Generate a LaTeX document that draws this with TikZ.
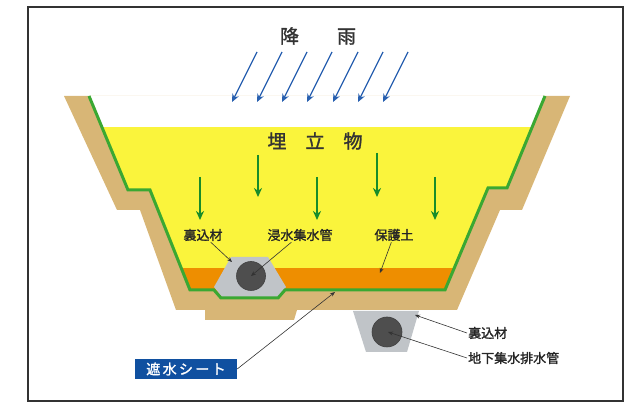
\documentclass[tikz,border=0pt]{standalone}
\usepackage{fontspec}
\usepackage{tikz}
\usetikzlibrary{arrows.meta}
\newfontfamily\jp{Noto Sans CJK JP}[AutoFakeBold=1.5]

\definecolor{bank}{RGB}{216,182,118}
\definecolor{liner}{RGB}{58,168,50}
\definecolor{waste}{RGB}{250,244,60}
\definecolor{guard}{RGB}{238,142,0}
\definecolor{gravel}{RGB}{192,196,200}
\definecolor{pipegray}{RGB}{78,78,78}
\definecolor{rainblue}{RGB}{40,96,176}
\definecolor{seep}{RGB}{24,140,42}
\definecolor{tagblue}{RGB}{16,80,160}

\begin{document}
\begin{tikzpicture}[x=1pt,y=-1pt,
            rain/.style={rainblue, line width=1.3pt, ->, >={Stealth[length=8pt,width=7pt]}},
            seepage/.style={seep, line width=1.6pt, ->, >={Stealth[length=9pt,width=8pt]}},
            leader/.style={black!80, line width=0.6pt, ->, >={Stealth[length=5pt,width=4pt]}},
            callout/.style={font=\jp\bfseries\fontsize{13}{13}\selectfont, text=black!85, inner sep=1pt},
            headline/.style={font=\jp\bfseries\fontsize{19}{19}\selectfont, text=black!80},
            sheetbox/.style={rectangle, fill=tagblue, text=white, inner sep=0pt, minimum width=102pt, minimum height=20pt,
                font=\jp\bfseries\fontsize{14}{14}\selectfont}
        ]
            \useasboundingbox (0,0) rectangle (630,403);

            % Outer frame
            \draw[black!80, line width=1.4pt] (28,7) rectangle (623,401);

            % Embankment (brown band)
            \fill[bank] (64,96) -- (117,210) -- (140,210) -- (176,310) -- (205,310) -- (205,320) -- (294,320)
                -- (297,310) -- (457,310) -- (500,210) -- (522,210) -- (570,96) -- cycle;
            \fill[white] (89,96) -- (128,190) -- (150,190) -- (190,290) -- (214,290) -- (221,298) -- (278,298)
                -- (285,290) -- (445,290) -- (488,188) -- (507,188) -- (545,96) -- cycle;

            % Waste fill and protective soil
            \begin{scope}
                \clip (89,96) -- (128,190) -- (150,190) -- (190,290) -- (214,290) -- (221,298) -- (278,298)
                    -- (285,290) -- (445,290) -- (488,188) -- (507,188) -- (545,96) -- cycle;
                \fill[waste] (0,127) rectangle (630,403);
                \fill[guard] (0,268) rectangle (630,303);
            \end{scope}

            % Gravel round the leachate pipe
            \fill[gravel] (231,257) -- (268,257) -- (286,287) -- (279,297) -- (222,297) -- (214,287) -- cycle;

            % Liner sheet
            \draw[liner, line width=3pt, line join=miter] (89,96) -- (128,190) -- (150,190) -- (190,290) -- (214,290)
                -- (221,298) -- (278,298) -- (285,290) -- (445,290) -- (488,188) -- (507,188) -- (545,96);

            % Underdrain trench
            \fill[gravel] (353,311) -- (419,311) -- (407,352) -- (366,352) -- cycle;

            % Pipes
            \filldraw[fill=pipegray, draw=black!75, line width=0.6pt] (251,276) circle (14.5);
            \filldraw[fill=pipegray, draw=black!75, line width=0.6pt] (387,332) circle (15);
            \coordinate (pipeL) at (251,276);
            \coordinate (pipeR) at (388,332);

            % Rainfall
            \node[headline] (rainfall) at (318,36) {降　　雨};
            \draw[rain] (257,52) -- ++(-25,50);
            \draw[rain] (282,52) -- ++(-25,50);
            \draw[rain] (307,52) -- ++(-25,50);
            \draw[rain] (332,52) -- ++(-25,50);
            \draw[rain] (358,52) -- ++(-25,50);
            \draw[rain] (383,52) -- ++(-25,50);
            \draw[rain] (408,52) -- ++(-25,50);

            % Seepage through the fill
            \node[headline] (landfill) at (315,141) {埋　立　物};
            \draw[seepage] (200,177) -- (200,220);
            \draw[seepage] (258,155) -- (258,197);
            \draw[seepage] (317,177) -- (317,220);
            \draw[seepage] (377,153) -- (377,197);
            \draw[seepage] (435,177) -- (435,220);

            % Labels with leaders
            \coordinate (gravelL) at (232,262);
            \coordinate (soilpt) at (380,273);
            \coordinate (gravelR) at (415,315);
            \coordinate (linerpt) at (335,292);

            \node[callout] (backfillL) at (203,235) {裏込材};
            \node[callout] (leachate) at (300,235) {浸水集水管};
            \node[callout] (cover) at (394,235) {保護土};
            \node[callout, anchor=west] (backfillR) at (467,333) {裏込材};
            \node[callout, anchor=west] (underdrain) at (467,358) {地下集水排水管};
            \node[sheetbox] (sheet) at (186,369) {遮\,水\,シ\,ー\,ト};

            \draw[leader] (backfillL) -- (gravelL);
            \draw[leader] (leachate) -- (pipeL);
            \draw[leader] (cover) -- (soilpt);
            \draw[leader] (backfillR.west) -- (gravelR);
            \draw[leader] (underdrain.west) -- (pipeR);
            \draw[leader] (sheet.east) -- (linerpt);

        \end{tikzpicture}
\end{document}
